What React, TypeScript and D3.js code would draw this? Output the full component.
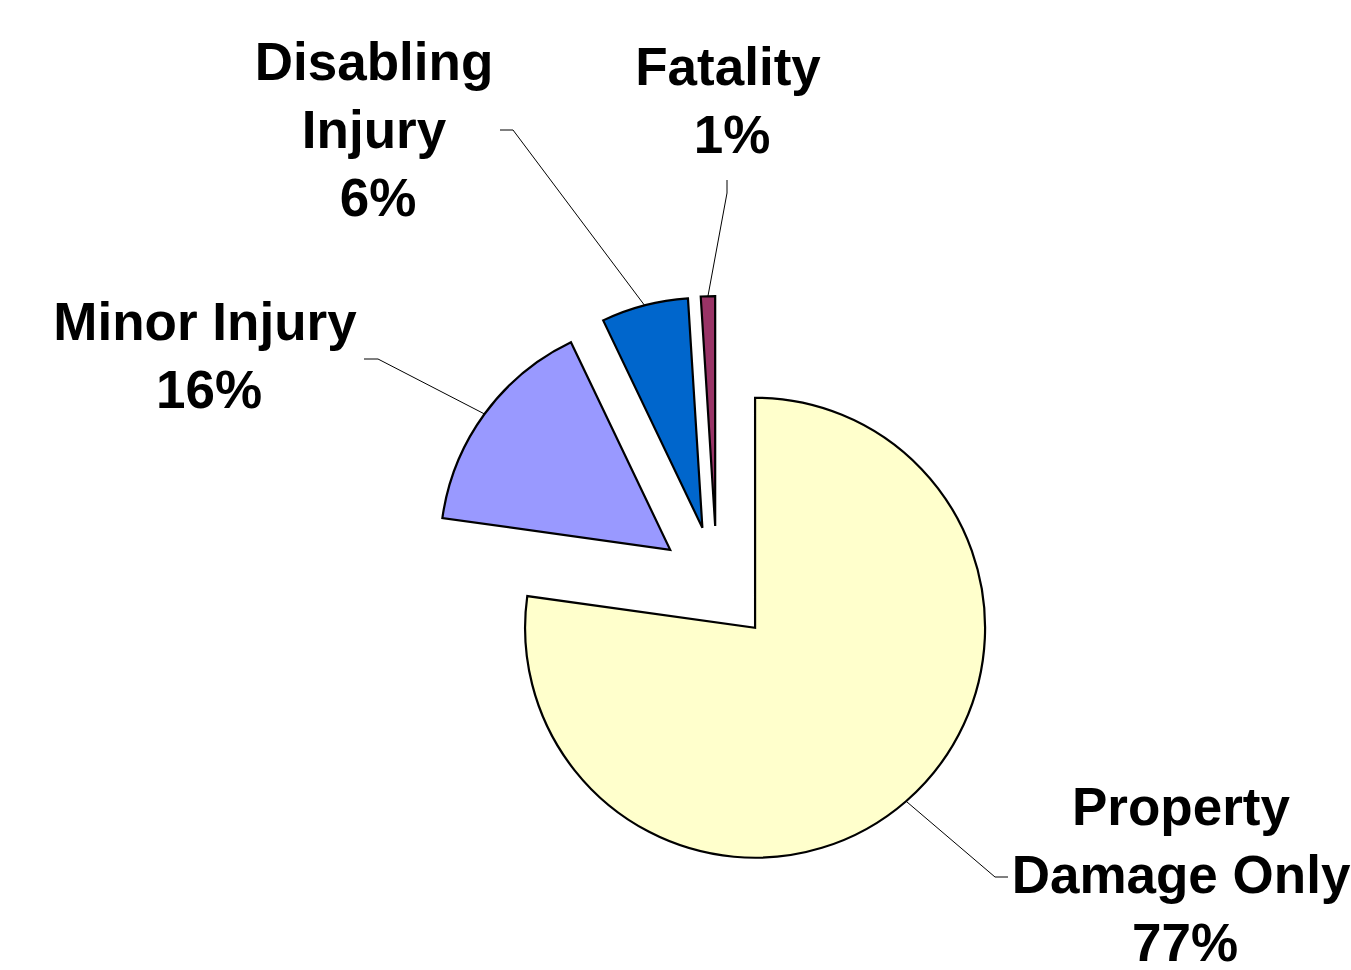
import React from "react";
import * as d3 from "d3";

// ---- data ----
const categories = ["Property Damage Only", "Minor Injury", "Disabling Injury", "Fatality"];
const values = [77.2, 15.7, 6.1, 1.0];
const percentLabels = ["77%", "16%", "6%", "1%"];
const labelLines = [["Property", "Damage Only"], ["Minor Injury"], ["Disabling", "Injury"], ["Fatality"]];
const colors = ["#FFFFCC", "#9999FF", "#0066CC", "#993366"];

// ---- layout ----
const W = 1351;
const H = 970;
const CX = 717;
const CY = 584;
const R = 230;
const EXPLODE = 58;
const FONT = 53;
const LINE_H = 68;
const PCT_SHIFT = 4;

// label anchor (center x, first baseline y) and leader path points (elbow then end)
const labelLayout = [
  { x: 1181, y: 825, elbow: [995, 877], end: [1008, 877] },
  { x: 205, y: 340, elbow: [378, 359], end: [364, 359] },
  { x: 374, y: 80, elbow: [513, 130], end: [500, 130] },
  { x: 728, y: 85, elbow: [727, 193], end: [727, 180] },
];

export default function App() {
  const pie = d3
    .pie<number>()
    .sort(null)
    .value((d) => d)
    .startAngle(0)
    .endAngle(2 * Math.PI);
  const arcs = pie(values);
  const arcGen = d3.arc<d3.PieArcDatum<number>>().innerRadius(0).outerRadius(R);

  return (
    <svg
      width={W}
      height={H}
      style={{ position: "fixed", left: 0, top: 0, background: "#fff" }}
      fontFamily="'Liberation Sans', Arial, sans-serif"
    >
      {arcs.map((a, i) => {
        const mid = (a.startAngle + a.endAngle) / 2;
        const dx = Math.sin(mid) * EXPLODE;
        const dy = -Math.cos(mid) * EXPLODE;
        const sx = CX + dx;
        const sy = CY + dy;
        const ax = sx + Math.sin(mid) * R;
        const ay = sy - Math.cos(mid) * R;
        const L = labelLayout[i];
        const lines = [...labelLines[i], percentLabels[i]];
        return (
          <g key={categories[i]}>
            <path
              d={arcGen(a) || ""}
              transform={`translate(${sx},${sy})`}
              fill={colors[i]}
              stroke="#000"
              strokeWidth={2.2}
              strokeLinejoin="miter"
            />
            <polyline
              points={`${ax},${ay} ${L.elbow[0]},${L.elbow[1]} ${L.end[0]},${L.end[1]}`}
              fill="none"
              stroke="#000"
              strokeWidth={1}
            />
            <text
              x={L.x}
              y={L.y}
              textAnchor="middle"
              fontSize={FONT}
              fontWeight="bold"
              fill="#000"
            >
              {lines.map((t, j) => (
                <tspan
                  key={j}
                  x={L.x + (j === lines.length - 1 ? PCT_SHIFT : 0)}
                  y={L.y + j * LINE_H}
                >
                  {t}
                </tspan>
              ))}
            </text>
          </g>
        );
      })}
    </svg>
  );
}
